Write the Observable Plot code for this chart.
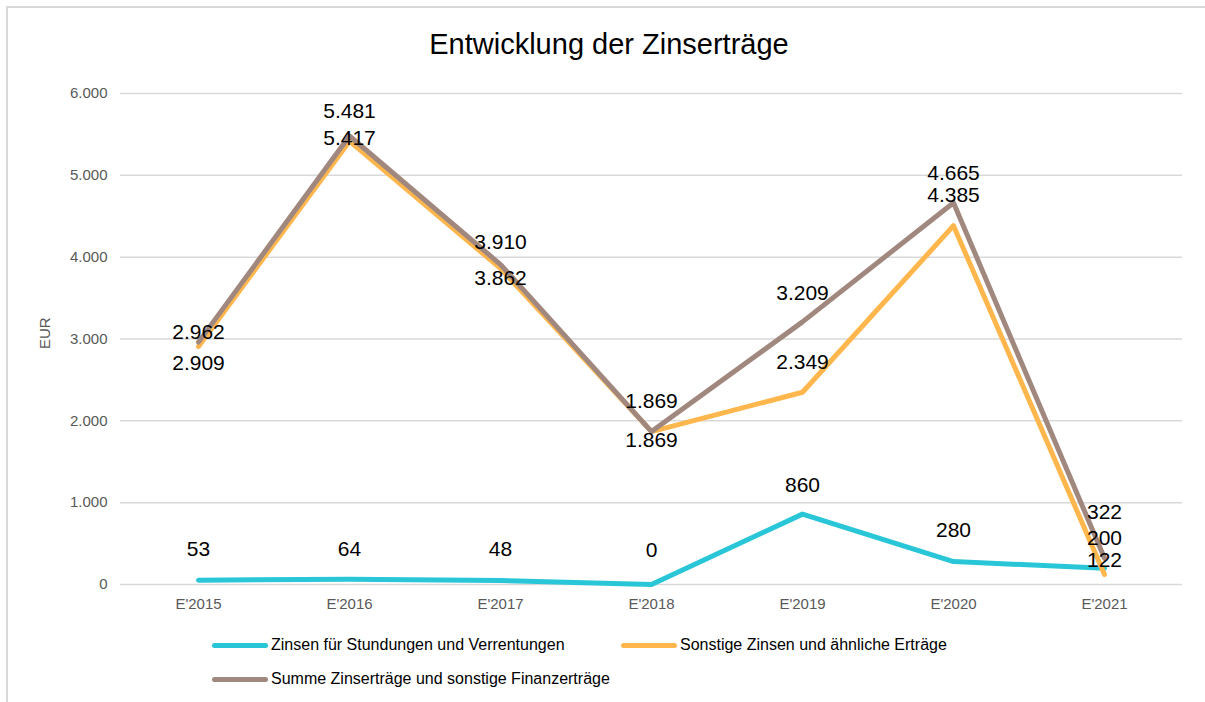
<!DOCTYPE html>
<html>
<head>
<meta charset="utf-8">
<script src="https://cdn.jsdelivr.net/npm/d3@7"></script>
<script src="https://cdn.jsdelivr.net/npm/@observablehq/plot@0.6"></script>
<style>
  html, body { margin: 0; padding: 0; background: #fff; width: 1205px; height: 702px; overflow: hidden; font-family: "Liberation Sans", Arial, sans-serif; }
  #frame { position: absolute; left: 6px; top: 6px; width: 1300px; height: 800px; border: 2px solid #d9d9d9; box-sizing: border-box; }
  #title { position: absolute; left: 0; width: 1218px; top: 27px; text-align: center; font-size: 29px; line-height: 34px; color: #000; }
  #chart { position: absolute; left: 0; top: 70px; }
  .leg { position: absolute; display: flex; align-items: center; font-size: 16px; line-height: 18px; color: #000; }
  .leg .sw { width: 56px; height: 5px; border-radius: 3px; margin-right: 3px; }
</style>
</head>
<body>
<div id="frame"></div>
<div id="title">Entwicklung der Zinserträge</div>
<div id="chart"></div>
<div id="legend"></div>
<script>
// ---- data ----
const categories = ["E'2015", "E'2016", "E'2017", "E'2018", "E'2019", "E'2020", "E'2021"];
const seriesNames = [
  "Zinsen für Stundungen und Verrentungen",
  "Sonstige Zinsen und ähnliche Erträge",
  "Summe Zinserträge und sonstige Finanzerträge"
];
const zinsenStundungen = [53, 64, 48, 0, 860, 280, 200];
const sonstigeZinsen = [2909, 5417, 3862, 1869, 2349, 4385, 122];
const summeZinsen = [2962, 5481, 3910, 1869, 3209, 4665, 322];
const yTicks = [0, 1000, 2000, 3000, 4000, 5000, 6000];
const seriesColors = ["#29C6D8", "#FFB74D", "#A1887F"];
// vertical label nudges (px) as placed in the original
const labelDyStundungen = [-31, -30, -31, -34, -29, -31, -30];
const labelDySonstige = [17, -3, 10, 9, -30, -30, -14];
const labelDySumme = [-10, -25, -22, -30, -29, -29, -46];

// ---- build ----
const de = d3.formatLocale({decimal: ",", thousands: ".", grouping: [3], currency: ["", " €"]});
const fmt = de.format(",d");

const valuesBySeries = [zinsenStundungen, sonstigeZinsen, summeZinsen];
const dyBySeries = [labelDyStundungen, labelDySonstige, labelDySumme];
const rows = [];
valuesBySeries.forEach((vals, s) => {
  vals.forEach((v, i) => rows.push({series: seriesNames[s], cat: categories[i], value: v, dy: dyBySeries[s][i]}));
});

const labelMarks = rows.map(r => Plot.text([r], {
  x: "cat", y: "value", text: d => fmt(d.value), dy: r.dy,
  fontSize: 21, fill: "#000"
}));

const chart = Plot.plot({
  width: 1205,
  height: 550,
  marginTop: 23,
  marginBottom: 36,
  marginLeft: 120,
  marginRight: 23,
  style: {fontFamily: "'Liberation Sans', Arial, sans-serif", fontSize: "15px", background: "transparent"},
  x: {type: "point", domain: categories, padding: 0.5, label: null},
  y: {domain: [0, 6000], label: null},
  color: {domain: seriesNames, range: seriesColors},
  marks: [
    Plot.ruleY(yTicks, {stroke: "#d9d9d9", strokeWidth: 1.5}),
    Plot.axisY({ticks: yTicks, tickSize: 0, tickPadding: 13, tickFormat: fmt, label: null, fill: "#595959", fontSize: 15}),
    Plot.axisX({tickSize: 0, tickPadding: 14, label: null, fill: "#595959", fontSize: 15}),
    Plot.text(["EUR"], {frameAnchor: "left", rotate: -90, dx: -75, dy: 10, fontSize: 15, fill: "#595959"}),
    Plot.line(rows, {x: "cat", y: "value", z: "series", stroke: "series", strokeWidth: 5, strokeLinejoin: "round", strokeLinecap: "round"}),
    ...labelMarks
  ]
});
document.getElementById("chart").appendChild(chart);

// ---- legend ----
const legendPos = [{left: 212, top: 645}, {left: 621, top: 645}, {left: 212, top: 679}];
const legend = document.getElementById("legend");
seriesNames.forEach((name, i) => {
  const el = document.createElement("div");
  el.className = "leg";
  el.style.left = legendPos[i].left + "px";
  el.style.top = (legendPos[i].top - 9) + "px";
  el.innerHTML = `<div class="sw" style="background:${seriesColors[i]}"></div><span>${name}</span>`;
  legend.appendChild(el);
});
</script>
</body>
</html>
